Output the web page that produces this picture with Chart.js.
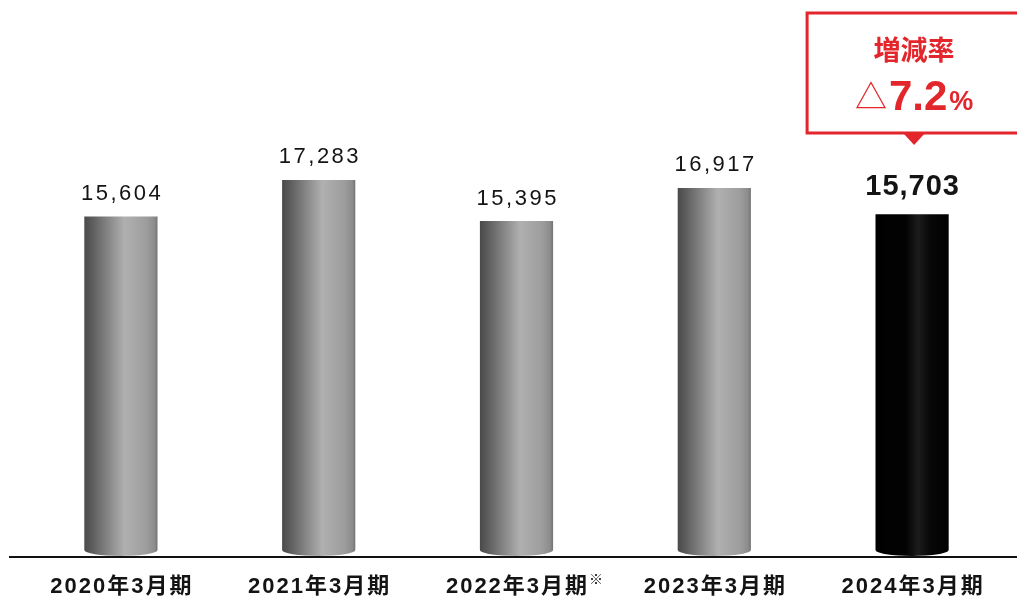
<!DOCTYPE html>
<html>
<head>
<meta charset="utf-8">
<script src="https://cdn.jsdelivr.net/npm/chart.js@4.4.1/dist/chart.umd.min.js"></script>
<style>
  html, body { margin: 0; padding: 0; background: #ffffff; }
  #wrap { width: 1017px; height: 597px; position: relative; }
</style>
</head>
<body>
<div id="wrap"><canvas id="c"></canvas></div>
<script>
// Fiscal periods, notes and sales figures
const categories = ['2020年3月期', '2021年3月期', '2022年3月期', '2023年3月期', '2024年3月期'];
const categoryNotes = ['', '', '※', '', ''];
const sales = [15604, 17283, 15395, 16917, 15703];
const highlightIndex = 4;

// Year-over-year change callout
const changeTitle = '増減率';
const changeSign = '△';
const changeValue = '7.2';
const changeUnit = '%';

const RED = '#e2262c';
const TEXT = '#141414';
const LATIN = '"Liberation Sans", Arial, sans-serif';
const CJK = '"Noto Sans CJK JP", sans-serif';
const MIXED = '"Liberation Sans", "Noto Sans CJK JP", sans-serif';

function spacedText(ctx, text, cx, y, spacing) {
  ctx.letterSpacing = spacing + 'px';
  const w = ctx.measureText(text).width - spacing;
  ctx.textAlign = 'left';
  ctx.fillText(text, cx - w / 2, y);
  return { left: cx - w / 2, right: cx + w / 2 };
}

// Draws each bar as a shaded cylinder with a rounded base
const cylinderBars = {
  id: 'cylinderBars',
  afterDatasetsDraw(chart) {
    const ctx = chart.ctx;
    const meta = chart.getDatasetMeta(0);
    meta.data.forEach((bar, i) => {
      const { x, y, base, width } = bar.getProps(['x', 'y', 'base', 'width'], true);
      const l = x - width / 2, r = x + width / 2, ry = 6;
      const g = ctx.createLinearGradient(l, 0, r, 0);
      if (i === highlightIndex) {
        g.addColorStop(0, '#000000');
        g.addColorStop(0.42, '#030303');
        g.addColorStop(0.58, '#1c1c1c');
        g.addColorStop(0.75, '#070707');
        g.addColorStop(1, '#000000');
      } else {
        g.addColorStop(0, '#4a4a4a');
        g.addColorStop(0.12, '#5f5f5f');
        g.addColorStop(0.55, '#b0b0b0');
        g.addColorStop(0.85, '#9d9d9d');
        g.addColorStop(0.96, '#8c8c8c');
        g.addColorStop(1, '#727272');
      }
      ctx.save();
      ctx.fillStyle = g;
      ctx.beginPath();
      ctx.moveTo(l, y);
      ctx.lineTo(r, y);
      ctx.lineTo(r, base - ry);
      ctx.ellipse(x, base - ry, width / 2, ry, 0, 0, Math.PI);
      ctx.closePath();
      ctx.fill();
      ctx.restore();
    });
  }
};

// Value labels, baseline, category labels and change callout
const annotations = {
  id: 'annotations',
  afterDraw(chart) {
    const ctx = chart.ctx;
    const meta = chart.getDatasetMeta(0);
    const yScale = chart.scales.y;
    const zeroY = yScale.getPixelForValue(0);

    // baseline
    ctx.save();
    ctx.strokeStyle = '#111111';
    ctx.lineWidth = 2;
    ctx.beginPath();
    ctx.moveTo(9, zeroY + 1);
    ctx.lineTo(chart.width, zeroY + 1);
    ctx.stroke();
    ctx.restore();

    meta.data.forEach((bar, i) => {
      const x = bar.x, top = bar.y;
      const label = sales[i].toLocaleString('en-US');
      ctx.save();
      ctx.fillStyle = TEXT;
      ctx.textBaseline = 'alphabetic';
      if (i === highlightIndex) {
        ctx.font = 'bold 29px ' + LATIN;
        spacedText(ctx, label, x, top - 19, 1);
      } else {
        ctx.font = '22px ' + LATIN;
        spacedText(ctx, label, x, top - 16.5, 2.5);
      }

      // category label
      ctx.font = 'bold 22px ' + MIXED;
      const ext = spacedText(ctx, categories[i], x, 593, 2);
      if (categoryNotes[i]) {
        ctx.letterSpacing = '0px';
        ctx.font = '14px ' + CJK;
        ctx.fillText(categoryNotes[i], ext.right + 2, 584);
      }
      ctx.restore();
    });

    // callout above highlighted bar
    const hb = meta.data[highlightIndex];
    const cx = hb.x + 2;
    const boxTop = 13, boxBottom = 133;
    ctx.save();
    ctx.strokeStyle = RED;
    ctx.lineWidth = 3;
    ctx.fillStyle = '#ffffff';
    ctx.beginPath();
    ctx.rect(cx - 107, boxTop, 225, boxBottom - boxTop);
    ctx.fill();
    ctx.stroke();
    ctx.fillStyle = RED;
    ctx.beginPath();
    ctx.moveTo(cx - 11, boxBottom);
    ctx.lineTo(cx + 11, boxBottom);
    ctx.lineTo(cx, boxBottom + 12);
    ctx.closePath();
    ctx.fill();

    ctx.letterSpacing = '0px';
    ctx.textBaseline = 'middle';
    ctx.textAlign = 'center';
    ctx.font = 'bold 27px ' + CJK;
    ctx.fillText(changeTitle, cx, 50);

    ctx.textBaseline = 'alphabetic';
    ctx.textAlign = 'left';
    const fSign = '32px ' + CJK;
    const fVal = 'bold 42px ' + LATIN;
    const fUnit = 'bold 27px ' + LATIN;
    ctx.font = fSign; const wS = ctx.measureText(changeSign).width;
    ctx.font = fVal; const wV = ctx.measureText(changeValue).width;
    ctx.font = fUnit; const wU = ctx.measureText(changeUnit).width;
    let sx = cx - (wS + wV + wU + 4) / 2;
    ctx.font = fSign; ctx.fillText(changeSign, sx, 108); sx += wS + 2;
    ctx.font = fVal; ctx.fillText(changeValue, sx, 110); sx += wV + 2;
    ctx.font = fUnit; ctx.fillText(changeUnit, sx, 110);
    ctx.restore();
  }
};

new Chart(document.getElementById('c'), {
  type: 'bar',
  data: {
    labels: categories,
    datasets: [{
      data: sales,
      backgroundColor: 'rgba(0,0,0,0)',
      borderWidth: 0,
      categoryPercentage: 1,
      barPercentage: 0.37
    }]
  },
  options: {
    responsive: true,
    maintainAspectRatio: false,
    animation: false,
    events: [],
    layout: { padding: { top: 12, left: 22, right: 6, bottom: 0 } },
    plugins: { legend: { display: false }, tooltip: { enabled: false } },
    scales: {
      x: {
        ticks: { display: false },
        grid: { display: false },
        border: { display: false },
        afterFit(scale) { scale.height = 41; }
      },
      y: {
        display: false,
        min: 0,
        max: 25000
      }
    }
  },
  plugins: [cylinderBars, annotations]
});
</script>
</body>
</html>
